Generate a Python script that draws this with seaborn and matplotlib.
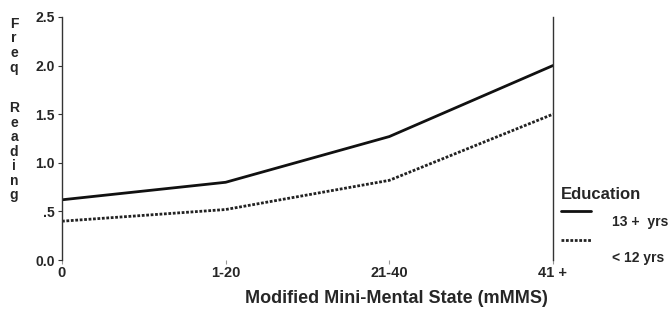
import matplotlib
matplotlib.use("Agg")
import matplotlib.pyplot as plt
import seaborn as sns
import pandas as pd
from matplotlib.lines import Line2D

categories = ["0", "1-20", "21-40", "41 +"]
edu_13 = [0.62, 0.80, 1.27, 2.00]
edu_12 = [0.40, 0.52, 0.82, 1.50]
series_names = ["13 +  yrs", "< 12 yrs"]
y_ticks = [0.0, 0.5, 1.0, 1.5, 2.0, 2.5]
y_ticklabels = ["0.0", ".5", "1.0", "1.5", "2.0", "2.5"]

sns.set_theme(style="white")
plt.rcParams['font.family'] = ['Liberation Sans', 'DejaVu Sans']

rows = []
for i, c in enumerate(categories):
    rows.append({"pos": i, "val": edu_13[i], "Education": series_names[0]})
    rows.append({"pos": i, "val": edu_12[i], "Education": series_names[1]})
df = pd.DataFrame(rows)

fig = plt.figure(figsize=(6.68, 3.13), dpi=100)
ax = fig.add_axes([0.0928, 0.169, 0.735, 0.777])

sns.lineplot(data=df, x="pos", y="val", hue="Education", style="Education",
             palette=["#111111", "#222222"],
             dashes={series_names[0]: "", series_names[1]: (1, 0.6)},
             linewidth=2.0, ax=ax, legend=False)

ax.set_xlim(0, 3)
ax.set_ylim(0, 2.5)
ax.set_xticks(range(len(categories)))
ax.set_xticklabels(categories, fontsize=10.5, fontweight="bold")
ax.set_yticks(y_ticks)
ax.set_yticklabels(y_ticklabels, fontsize=10, fontweight="bold")
ax.set_xlabel("")
ax.set_ylabel("")
for s in ["top", "bottom"]:
    ax.spines[s].set_visible(False)
for s in ["left", "right"]:
    ax.spines[s].set_color("#333333")
    ax.spines[s].set_linewidth(1.0)
ax.tick_params(axis="y", left=True, length=3, width=0.8, color="#333333", pad=2)
ax.tick_params(axis="x", bottom=True, length=3, width=0.8, color="#999999", pad=1)

# vertical stacked y label
fig.text(0.021, 0.946, "F\nr\ne\nq", ha="center", va="top", fontsize=10,
         fontweight="bold", linespacing=1.05)
fig.text(0.021, 0.677, "R\ne\na\nd\ni\nn\ng", ha="center", va="top", fontsize=10,
         fontweight="bold", linespacing=1.05)

fig.text(0.593, 0.046, "Modified Mini-Mental State (mMMS)", ha="center", va="center",
         fontsize=13, fontweight="bold")

# legend
fig.text(0.840, 0.377, "Education", ha="left", va="center", fontsize=12, fontweight="bold")
fig.add_artist(Line2D([0.840, 0.885], [0.325, 0.325], color="#111111", linewidth=2.0,
                      transform=fig.transFigure))
fig.add_artist(Line2D([0.840, 0.885], [0.233, 0.233], color="#222222", linewidth=2.0,
                      linestyle=(0, (1, 0.6)), transform=fig.transFigure))
fig.text(0.916, 0.290, series_names[0], ha="left", va="center", fontsize=10, fontweight="bold")
fig.text(0.916, 0.176, series_names[1], ha="left", va="center", fontsize=10, fontweight="bold")

fig.savefig("out.png", dpi=100)
